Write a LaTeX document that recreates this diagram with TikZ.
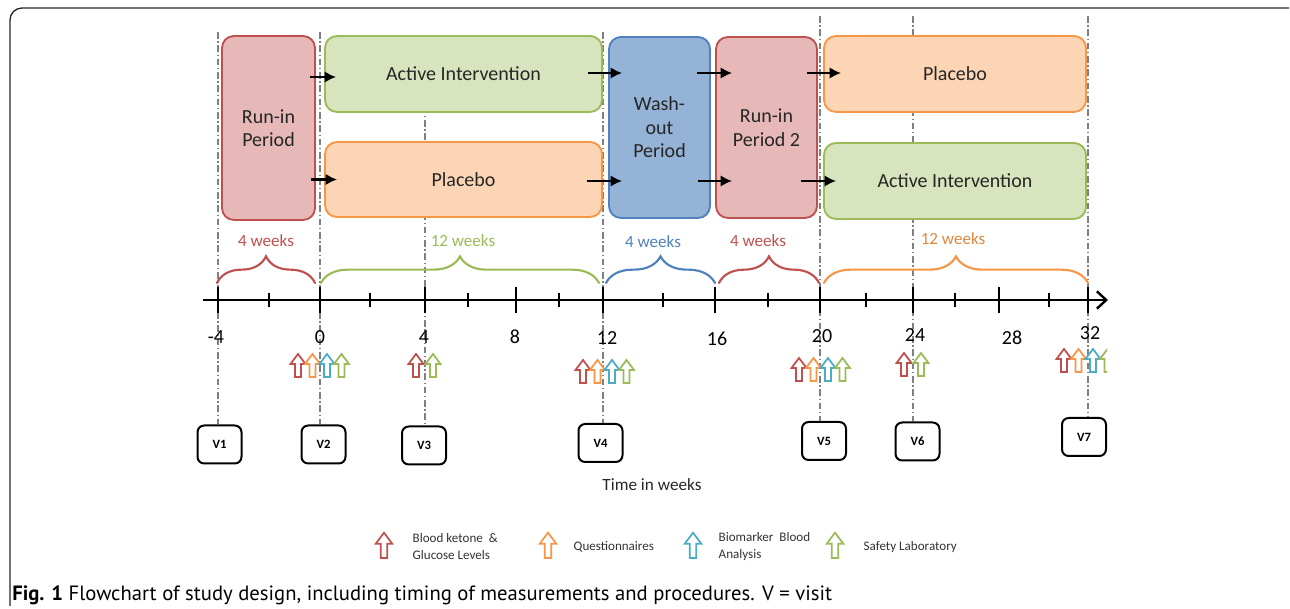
\documentclass[tikz,border=0pt]{standalone}
\usepackage{fontspec}
\setmainfont{Carlito}
\newfontfamily\capfont{PT Sans}
\usetikzlibrary{arrows.meta,decorations.pathreplacing,calc}
\definecolor{cRed}{HTML}{C0504D}
\definecolor{cRedF}{HTML}{E6B9B8}
\definecolor{cGrn}{HTML}{9BBB59}
\definecolor{cGrnF}{HTML}{D7E4BD}
\definecolor{cOrg}{HTML}{F79646}
\definecolor{cOrgF}{HTML}{FCD5B5}
\definecolor{cBlu}{HTML}{4F81BD}
\definecolor{cBluF}{HTML}{95B3D7}
\definecolor{cCyn}{HTML}{4BACC6}
\tikzset{
  pics/upmark/.style={code={
    \draw[line width=1.3pt, fill=white, draw=#1, line join=miter]
      (-3,0) -- (-3,-13) -- (-7.5,-13) -- (0,-23) -- (7.5,-13) -- (3,-13) -- (3,0) -- cycle;}},
  phase/.style={draw, rounded corners=9pt, line width=1.4pt, inner sep=0pt, align=center,
    font=\fontsize{15}{17.6}\selectfont, text=black!85},
  guide/.style={draw=black!50, line width=0.8pt, dash pattern=on 5pt off 2pt on 1pt off 2pt},
  flow/.style={-{Latex[length=8.5pt,width=8.5pt]}, line width=1.6pt},
  brc/.style={decorate, decoration={brace, amplitude=20pt}, line width=1.6pt, line cap=round},
  wk/.style={font=\fontsize{12.8}{14}\selectfont},
  tlab/.style={font=\fontsize{15}{17}\selectfont},
  visit/.style={draw, line width=1.5pt, rounded corners=5pt, minimum width=33pt, minimum height=28.5pt,
    inner sep=0pt, font=\bfseries\fontsize{9.5}{10}\selectfont},
  leg/.style={font=\fontsize{9.8}{12.75}\selectfont, align=left, anchor=west, text=black!80}
}
\begin{document}
\begin{tikzpicture}[x=0.75pt,y=-0.75pt]
\useasboundingbox (0,0) rectangle (1290,609);
% frame
\draw[line width=1pt, black!85, rounded corners=9pt] (10,606) -- (10,8) -- (1289,8);

% visit boxes
\node[visit] (v1) at (219.5,444.5) {V1};
\node[visit] (v2) at (323.5,444.5) {V2};
\node[visit] (v3) at (424,445.5) {V3};
\node[visit] (v4) at (600.5,443) {V4};
\node[visit] (v5) at (824,441) {V5};
\node[visit] (v6) at (917.5,441.5) {V6};
\node[visit] (v7) at (1084,437) {V7};

% guides
\draw[guide] (218,32) -- (v1.north -| 218,0);
\draw[guide] (320,32) -- (v2.north -| 320,0);
\draw[guide] (425,40) -- (v3.north -| 425,0);
\draw[guide] (603,32) -- (v4.north -| 603,0);
\draw[guide] (820,16) -- (v5.north -| 820,0);
\draw[guide] (913,16) -- (v6.north -| 913,0);
\draw[guide] (1088,16) -- (v7.north -| 1088,0);

% phase boxes
\node[phase, draw=cRed, fill=cRedF, minimum width=69.75pt, minimum height=138pt] (run) at (268.5,128) {Run-in\\Period};
\node[phase, draw=cGrn, fill=cGrnF, minimum width=207.75pt, minimum height=57pt] (actL) at (463.5,74) {Active Intervention};
\node[phase, draw=cOrg, fill=cOrgF, minimum width=207.75pt, minimum height=56.25pt] (plaL) at (463.5,179.5) {Placebo};
\node[phase, draw=cBlu, fill=cBluF, minimum width=75.75pt, minimum height=135.75pt] (wash) at (659.5,127.5) {Wash-\\out\\Period};
\node[phase, draw=cRed, fill=cRedF, minimum width=75.75pt, minimum height=135.75pt] (run2) at (766.5,127.5) {Run-in\\Period 2};
\node[phase, draw=cOrg, fill=cOrgF, minimum width=196.5pt, minimum height=57pt] (plaR) at (955,74) {Placebo};
\node[phase, draw=cGrn, fill=cGrnF, minimum width=196.5pt, minimum height=57pt] (actR) at (955,181) {Active Intervention};

% flow arrows
\draw[flow] ($(run.east |- actL.west)+(-6,3)$) -- ($(actL.west)+(12,3)$);
\draw[flow] ($(run.east |- plaL.west)+(-5,0)$) -- ($(plaL.west)+(13,0)$);
\draw[flow] ($(actL.east)+(-15,-1)$) -- ($(wash.west |- actL.east)+(14,-1)$);
\draw[flow] ($(plaL.east)+(-16,1.5)$) -- ($(wash.west |- plaL.east)+(14,1.5)$);
\draw[flow] ($(wash.east |- plaR.west)+(-14,-1)$) -- ($(run2.west |- plaR.west)+(17,-1)$);
\draw[flow] ($(wash.east |- actR.west)+(-13,0)$) -- ($(run2.west |- actR.west)+(17,0)$);
\draw[flow] ($(run2.east |- plaR.west)+(-11,-1)$) -- ($(plaR.west)+(18,-1)$);
\draw[flow] ($(run2.east |- actR.west)+(-17,0)$) -- ($(actR.west)+(13,0)$);

% braces
\draw[brc, draw=cRed] (217,283) -- (315,283);
\draw[brc, draw=cGrn] (321,283) -- (599,283);
\draw[brc, draw=cBlu] (606,283) -- (715,283);
\draw[brc, draw=cRed] (719,283) -- (819,283);
\draw[brc, draw=cOrg] (824,283) -- (1088,283);
\node[wk, text=cRed] (w1) at (266,241) {4 weeks};
\node[wk, text=cGrn] (w2) at (463,241) {12 weeks};
\node[wk, text=cBlu] (w3) at (653,242) {4 weeks};
\node[wk, text=cRed] (w4) at (758,241) {4 weeks};
\node[wk, text=cOrg!90!black] (w5) at (953,239) {12 weeks};

% time axis
\draw[line width=1.8pt, -{Straight Barb[length=7pt,width=13pt,line width=1.8pt]}] (203,300) -- (1108,300);
\foreach \x in {218,320,425,516,603,715,820,913,999,1088}
  \draw[line width=1.5pt] (\x,287) -- (\x,313);
\foreach \x in {269,370,468,559,663,768,866,955,1049}
  \draw[line width=1.5pt] (\x,293) -- (\x,307);
\node[tlab] (t1) at (216,337) {-4};
\node[tlab] (t2) at (320,337) {0};
\node[tlab] (t3) at (424,337) {4};
\node[tlab] (t4) at (515,337) {8};
\node[tlab] (t5) at (607,338) {12};
\node[tlab] (t6) at (717,339) {16};
\node[tlab] (t7) at (822,336) {20};
\node[tlab] (t8) at (915,335) {24};
\node[tlab] (t9) at (1012,338) {28};
\node[tlab] (t10) at (1090,333) {32};

% measurement markers
\pic at (298,377) {upmark=cRed};
\pic at (312.5,377) {upmark=cOrg};
\pic at (327,377) {upmark=cCyn};
\pic at (341.5,377) {upmark=cGrn};
\pic at (416,377) {upmark=cRed};
\pic at (433,377) {upmark=cGrn};
\pic at (583,383) {upmark=cRed};
\pic at (597.5,383) {upmark=cOrg};
\pic at (612,383) {upmark=cCyn};
\pic at (626.5,383) {upmark=cGrn};
\pic at (799,381) {upmark=cRed};
\pic at (813.5,381) {upmark=cOrg};
\pic at (828,381) {upmark=cCyn};
\pic at (842.5,381) {upmark=cGrn};
\pic at (904,376) {upmark=cRed};
\pic at (921,376) {upmark=cGrn};
\begin{scope}
\clip (0,0) rectangle (1107,609);
\pic at (1064,372) {upmark=cRed};
\pic at (1078.5,372) {upmark=cOrg};
\pic at (1093,372) {upmark=cCyn};
\pic at (1107.5,372) {upmark=cGrn};
\end{scope}

\node[font=\fontsize{12.9}{14}\selectfont, text=black!85] (tiw) at (652,485) {Time in weeks};

% legend
\pic[scale=1.1] at (384,558) {upmark=cRed};
\pic[scale=1.1] at (548,558) {upmark=cOrg};
\pic[scale=1.1] at (693,558) {upmark=cCyn};
\pic[scale=1.1] at (835,558) {upmark=cGrn};
\node[leg] (l1) at (408,547) {Blood ketone \ \&\\Glucose Levels};
\node[leg] (l2) at (569,547) {Questionnaires};
\node[leg] (l3) at (714,547) {Biomarker \ Blood\\Analysis};
\node[leg] (l4) at (859,547) {Safety Laboratory};

% caption
\node[anchor=base west, inner sep=0pt, font=\capfont\fontsize{15.5}{18}\selectfont] (cap) at (12,601)
  {\textbf{Fig. 1} Flowchart of study design, including timing of measurements and procedures. V = visit};
\end{tikzpicture}
\end{document}
